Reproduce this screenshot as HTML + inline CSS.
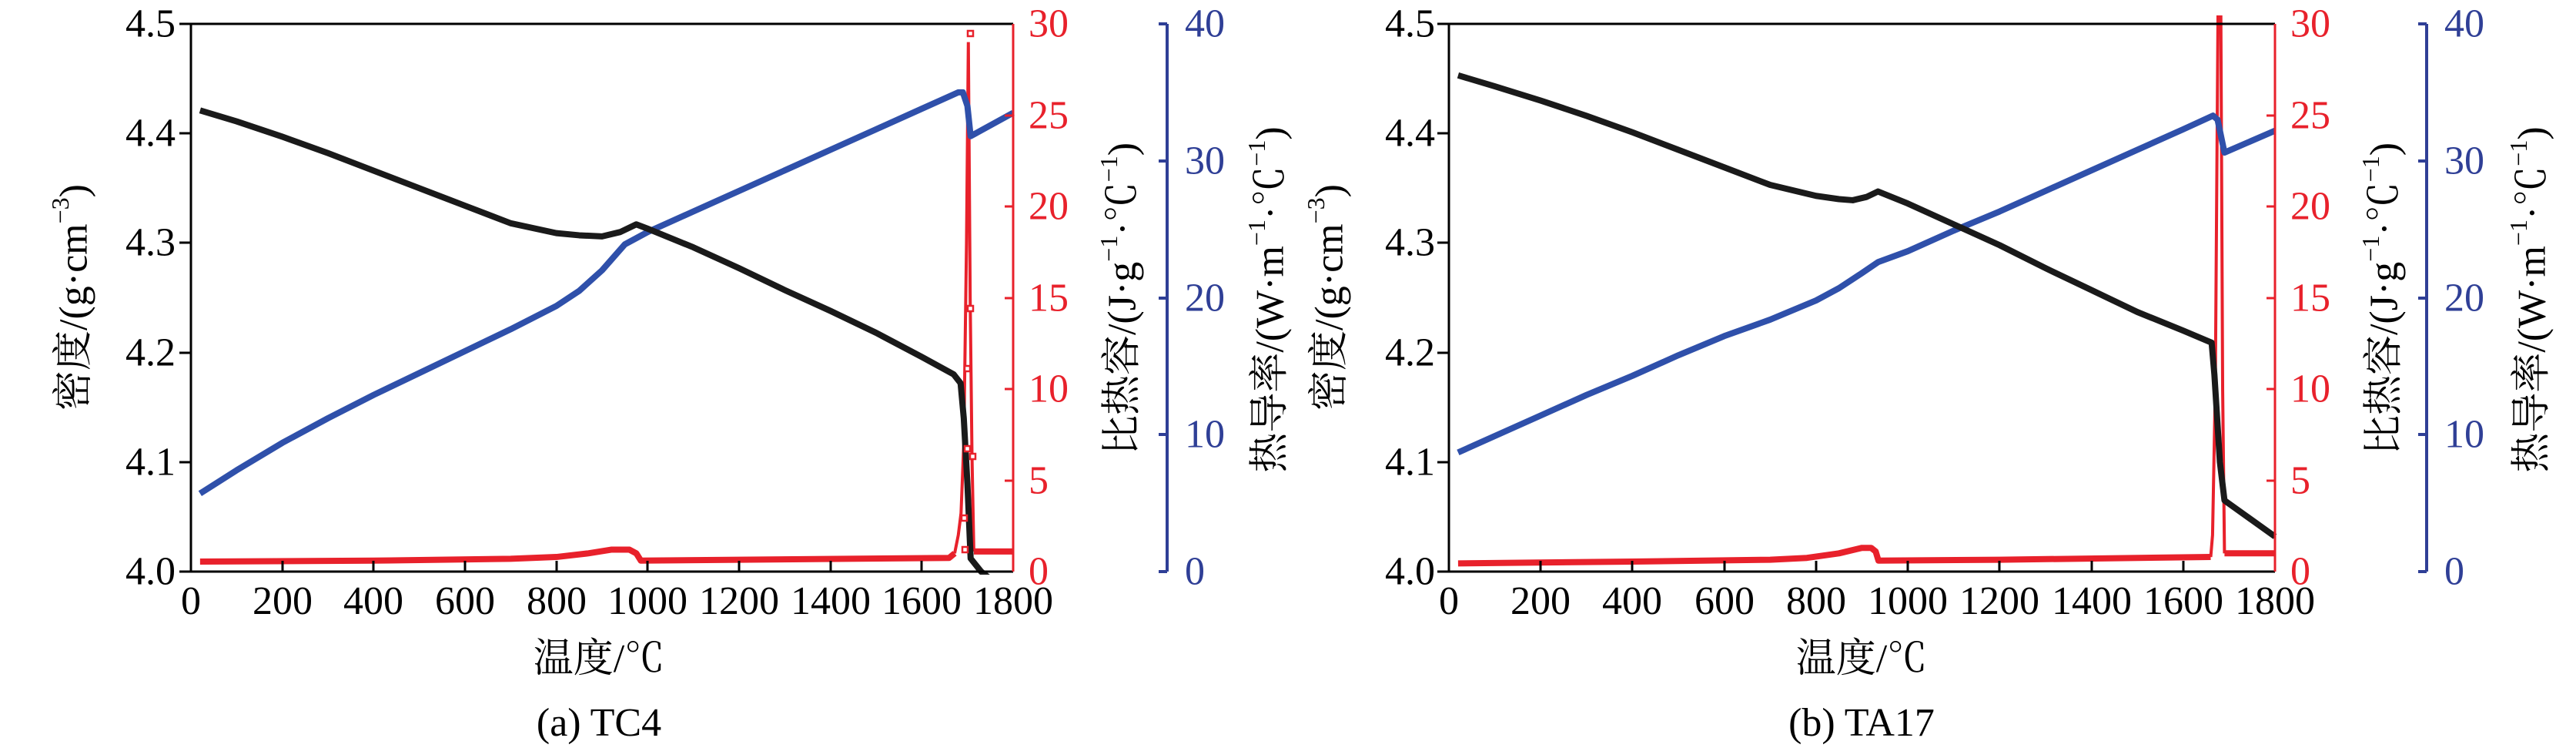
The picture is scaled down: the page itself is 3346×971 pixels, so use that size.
<!DOCTYPE html>
<html><head><meta charset="utf-8"><style>
html,body{margin:0;padding:0;background:#fff;}
svg{display:block;}
text{font-family:"Liberation Serif","Noto Serif CJK SC",serif;font-size:52px;}
.cjk{font-family:"Liberation Serif","Noto Serif CJK SC","Noto Sans CJK SC",serif;}
.k{stroke:#1a1a1a;stroke-width:8;fill:none;vector-effect:non-scaling-stroke;stroke-linejoin:round}
.b{stroke:#2f50aa;stroke-width:8;fill:none;vector-effect:non-scaling-stroke;stroke-linejoin:round}
.r{stroke:#e8212b;stroke-width:8;fill:none;vector-effect:non-scaling-stroke;stroke-linejoin:round}
.rs{stroke:#e8212b;stroke-width:4;fill:none;vector-effect:non-scaling-stroke}
</style></head><body>
<svg width="3346" height="971" viewBox="0 0 3346 971" xmlns="http://www.w3.org/2000/svg">
<defs>
<clipPath id="ca"><rect x="240" y="20" width="1080" height="726"/></clipPath>
<clipPath id="cb"><rect x="1874" y="20" width="1085" height="726"/></clipPath>
</defs>

<!-- ============ Panel A ============ -->
<g clip-path="url(#ca)">
<g transform="translate(248,742) scale(0.5933,-23.7)">
<polyline class="r" points="20,0.55 400,0.6 700,0.7 800,0.8 870,1.0 920,1.2 960,1.2 975,1.0 985,0.6 1200,0.65 1660,0.75 1672,1.0"/>
<polyline class="rs" points="1672,1.0 1680,2.0 1686,3.2 1692,7.0 1698,18 1702,29 1706,15 1710,6.3 1714,1.1"/>
<polyline class="r" points="1714,1.1 1800,1.1"/>
</g>
<g transform="translate(248,742) scale(0.5933,-17.775)">
<polyline class="b" points="20,5.7 100,7.4 200,9.4 300,11.2 400,12.9 500,14.5 600,16.1 700,17.7 800,19.4 850,20.5 900,22.0 950,23.9 1000,24.8 1100,26.3 1200,27.8 1300,29.3 1400,30.8 1500,32.3 1600,33.8 1680,35.0 1690,35.0 1700,34.0 1707,31.8 1800,33.5"/>
</g>
<g transform="translate(248,742) scale(0.5933,-1422) translate(0,-4)">
<polyline class="k" points="20,4.421 100,4.411 200,4.397 300,4.382 400,4.366 500,4.350 600,4.334 700,4.318 800,4.309 850,4.307 900,4.306 940,4.310 975,4.317 1000,4.313 1100,4.296 1200,4.277 1300,4.257 1400,4.238 1500,4.218 1600,4.196 1670,4.180 1685,4.172 1692,4.140 1700,4.080 1707,4.012 1730,4.000 1760,3.990"/>
</g>
</g>
<!-- markers A -->
<g fill="#fff" stroke="#e8212b" stroke-width="2.5">
<rect x="1249" y="669" width="7" height="7"/>
<rect x="1253" y="579" width="7" height="7"/>
<rect x="1253" y="475" width="7" height="7"/>
<rect x="1257" y="40" width="7" height="7"/>
<rect x="1257" y="397" width="7" height="7"/>
<rect x="1260" y="589" width="7" height="7"/>
<rect x="1250" y="710" width="7" height="7"/>
</g>
<!-- axes A -->
<g stroke="#000" stroke-width="3" fill="none">
<polyline points="1316,31 248,31 248,742 1316,742"/>
<line x1="233" y1="31" x2="248" y2="31"/><line x1="233" y1="173" x2="248" y2="173"/><line x1="233" y1="315" x2="248" y2="315"/><line x1="233" y1="458" x2="248" y2="458"/><line x1="233" y1="600" x2="248" y2="600"/><line x1="233" y1="742" x2="248" y2="742"/>
<line x1="367" y1="742" x2="367" y2="728"/><line x1="485" y1="742" x2="485" y2="728"/><line x1="604" y1="742" x2="604" y2="728"/><line x1="723" y1="742" x2="723" y2="728"/><line x1="841" y1="742" x2="841" y2="728"/><line x1="960" y1="742" x2="960" y2="728"/><line x1="1079" y1="742" x2="1079" y2="728"/><line x1="1197" y1="742" x2="1197" y2="728"/>
</g>
<g stroke="#e8212b" stroke-width="3">
<line x1="1316" y1="31" x2="1316" y2="742"/>
<line x1="1305" y1="150" x2="1316" y2="150"/><line x1="1305" y1="268" x2="1316" y2="268"/><line x1="1305" y1="387" x2="1316" y2="387"/><line x1="1305" y1="505" x2="1316" y2="505"/><line x1="1305" y1="624" x2="1316" y2="624"/>
</g>
<g stroke="#2f3f96" stroke-width="4">
<line x1="1516" y1="31" x2="1516" y2="742"/>
<line x1="1505" y1="31" x2="1516" y2="31"/><line x1="1505" y1="209" x2="1516" y2="209"/><line x1="1505" y1="387" x2="1516" y2="387"/><line x1="1505" y1="564" x2="1516" y2="564"/><line x1="1505" y1="742" x2="1516" y2="742"/>
</g>
<g text-anchor="end" dominant-baseline="central">
<text x="228" y="31">4.5</text><text x="228" y="173">4.4</text><text x="228" y="315">4.3</text><text x="228" y="458">4.2</text><text x="228" y="600">4.1</text><text x="228" y="742">4.0</text>
</g>
<g text-anchor="middle">
<text x="248" y="797">0</text><text x="367" y="797">200</text><text x="485" y="797">400</text><text x="604" y="797">600</text><text x="723" y="797">800</text><text x="841" y="797">1000</text><text x="960" y="797">1200</text><text x="1079" y="797">1400</text><text x="1197" y="797">1600</text><text x="1316" y="797">1800</text>
</g>
<g fill="#e8212b" dominant-baseline="central">
<text x="1336" y="31">30</text><text x="1336" y="150">25</text><text x="1336" y="268">20</text><text x="1336" y="387">15</text><text x="1336" y="505">10</text><text x="1336" y="624">5</text><text x="1336" y="742">0</text>
</g>
<g fill="#2f3f96" dominant-baseline="central">
<text x="1539" y="31">40</text><text x="1539" y="209">30</text><text x="1539" y="387">20</text><text x="1539" y="564">10</text><text x="1539" y="742">0</text>
</g>
<text class="cjk" x="778" y="872" text-anchor="middle">温度/℃</text>
<text x="778" y="955" text-anchor="middle" font-size="46">(a) TC4</text>
<text class="cjk" transform="translate(96,386) rotate(-90)" text-anchor="middle" dominant-baseline="central">密度/(g·cm<tspan font-size="32" dy="-18">−3</tspan><tspan dy="18">)</tspan></text>
<text class="cjk" transform="translate(1458,388) rotate(-90)" text-anchor="middle" dominant-baseline="central">比热容/(J·g<tspan font-size="32" dy="-18">−1</tspan><tspan dy="18">·℃</tspan><tspan font-size="32" dy="-18">−1</tspan><tspan dy="18">)</tspan></text>
<text class="cjk" transform="translate(1650,389) rotate(-90)" text-anchor="middle" dominant-baseline="central">热导率/(W·m<tspan font-size="32" dy="-18">−1</tspan><tspan dy="18">·℃</tspan><tspan font-size="32" dy="-18">−1</tspan><tspan dy="18">)</tspan></text>

<!-- ============ Panel B ============ -->
<g clip-path="url(#cb)">
<g transform="translate(1882,742) scale(0.5961,-23.7)">
<polyline class="r" points="20,0.45 400,0.55 700,0.65 780,0.75 850,1.0 900,1.3 920,1.3 930,1.1 936,0.6 1200,0.65 1660,0.8"/>
<polyline class="rs" points="1660,0.8 1664,2 1670,10 1676,31 1682,31 1686,10 1690,1.0"/>
<polyline class="r" points="1690,1.0 1800,1.0"/>
</g>
<g transform="translate(1882,742) scale(0.5961,-17.775)">
<polyline class="b" points="20,8.7 100,9.9 200,11.4 300,12.9 400,14.3 500,15.8 600,17.2 700,18.4 800,19.8 850,20.7 900,21.8 935,22.6 1000,23.4 1100,24.9 1200,26.3 1300,27.8 1400,29.3 1500,30.8 1600,32.3 1665,33.3 1675,33.0 1690,30.6 1800,32.2"/>
</g>
<g transform="translate(1882,742) scale(0.5961,-1422) translate(0,-4)">
<polyline class="k" points="20,4.453 100,4.443 200,4.430 300,4.416 400,4.401 500,4.385 600,4.369 700,4.353 800,4.343 850,4.340 880,4.339 910,4.342 935,4.347 1000,4.336 1100,4.317 1200,4.298 1300,4.277 1400,4.257 1500,4.237 1600,4.220 1662,4.209 1668,4.180 1680,4.100 1690,4.065 1800,4.032"/>
</g>
</g>
<g stroke="#000" stroke-width="3" fill="none">
<polyline points="2955,31 1882,31 1882,742 2955,742"/>
<line x1="1867" y1="31" x2="1882" y2="31"/><line x1="1867" y1="173" x2="1882" y2="173"/><line x1="1867" y1="315" x2="1882" y2="315"/><line x1="1867" y1="458" x2="1882" y2="458"/><line x1="1867" y1="600" x2="1882" y2="600"/><line x1="1867" y1="742" x2="1882" y2="742"/>
<line x1="2001" y1="742" x2="2001" y2="728"/><line x1="2120" y1="742" x2="2120" y2="728"/><line x1="2240" y1="742" x2="2240" y2="728"/><line x1="2359" y1="742" x2="2359" y2="728"/><line x1="2478" y1="742" x2="2478" y2="728"/><line x1="2597" y1="742" x2="2597" y2="728"/><line x1="2717" y1="742" x2="2717" y2="728"/><line x1="2836" y1="742" x2="2836" y2="728"/>
</g>
<g stroke="#e8212b" stroke-width="3">
<line x1="2955" y1="31" x2="2955" y2="742"/>
<line x1="2944" y1="150" x2="2955" y2="150"/><line x1="2944" y1="268" x2="2955" y2="268"/><line x1="2944" y1="387" x2="2955" y2="387"/><line x1="2944" y1="505" x2="2955" y2="505"/><line x1="2944" y1="624" x2="2955" y2="624"/>
</g>
<g stroke="#2f3f96" stroke-width="4">
<line x1="3152" y1="31" x2="3152" y2="742"/>
<line x1="3141" y1="31" x2="3152" y2="31"/><line x1="3141" y1="209" x2="3152" y2="209"/><line x1="3141" y1="387" x2="3152" y2="387"/><line x1="3141" y1="564" x2="3152" y2="564"/><line x1="3141" y1="742" x2="3152" y2="742"/>
</g>
<g text-anchor="end" dominant-baseline="central">
<text x="1864" y="31">4.5</text><text x="1864" y="173">4.4</text><text x="1864" y="315">4.3</text><text x="1864" y="458">4.2</text><text x="1864" y="600">4.1</text><text x="1864" y="742">4.0</text>
</g>
<g text-anchor="middle">
<text x="1882" y="797">0</text><text x="2001" y="797">200</text><text x="2120" y="797">400</text><text x="2240" y="797">600</text><text x="2359" y="797">800</text><text x="2478" y="797">1000</text><text x="2597" y="797">1200</text><text x="2717" y="797">1400</text><text x="2836" y="797">1600</text><text x="2955" y="797">1800</text>
</g>
<g fill="#e8212b" dominant-baseline="central">
<text x="2975" y="31">30</text><text x="2975" y="150">25</text><text x="2975" y="268">20</text><text x="2975" y="387">15</text><text x="2975" y="505">10</text><text x="2975" y="624">5</text><text x="2975" y="742">0</text>
</g>
<g fill="#2f3f96" dominant-baseline="central">
<text x="3175" y="31">40</text><text x="3175" y="209">30</text><text x="3175" y="387">20</text><text x="3175" y="564">10</text><text x="3175" y="742">0</text>
</g>
<text class="cjk" x="2418" y="872" text-anchor="middle">温度/℃</text>
<text x="2418" y="955" text-anchor="middle" font-size="46">(b) TA17</text>
<text class="cjk" transform="translate(1727,386) rotate(-90)" text-anchor="middle" dominant-baseline="central">密度/(g·cm<tspan font-size="32" dy="-18">−3</tspan><tspan dy="18">)</tspan></text>
<text class="cjk" transform="translate(3097,388) rotate(-90)" text-anchor="middle" dominant-baseline="central">比热容/(J·g<tspan font-size="32" dy="-18">−1</tspan><tspan dy="18">·℃</tspan><tspan font-size="32" dy="-18">−1</tspan><tspan dy="18">)</tspan></text>
<text class="cjk" transform="translate(3289,389) rotate(-90)" text-anchor="middle" dominant-baseline="central">热导率/(W·m<tspan font-size="32" dy="-18">−1</tspan><tspan dy="18">·℃</tspan><tspan font-size="32" dy="-18">−1</tspan><tspan dy="18">)</tspan></text>
</svg>
</body></html>
